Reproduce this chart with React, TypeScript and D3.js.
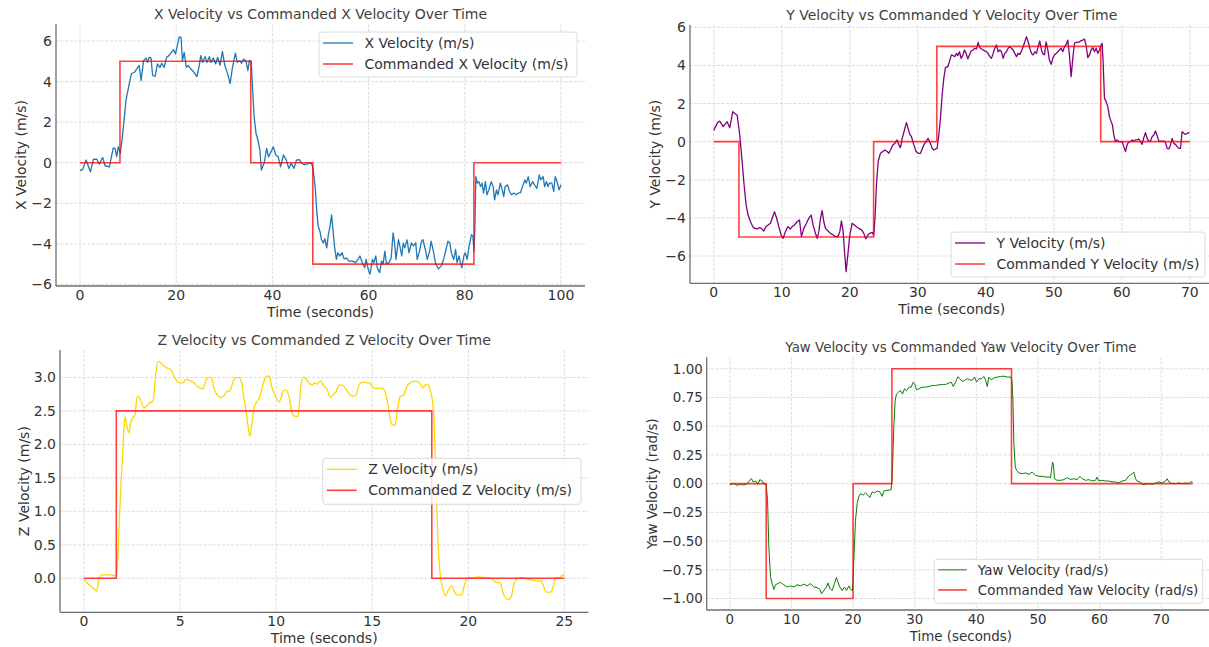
import React from 'react';
import * as d3 from 'd3';

const W = 1209;
const H = 647;

// ---------- Panel 1: X velocity ----------
const xTicksX = [0, 20, 40, 60, 80, 100];
const yTicksX = [-6, -4, -2, 0, 2, 4, 6];
const cmdXTimes = [0, 8.3, 35.5, 48.4, 81.9, 100];
const cmdXValues = [0, 5, 0, -5, 0, 0];
const xVelocity: [number, number][] = [
  [0,-0.4],[0.55,-0.33],[1.25,0.13],[2.15,-0.45],[2.77,0.16],[3.46,0.18],[4.0,-0.07],[4.7,0.26],[5.2,-0.15],[6.1,-0.2],
  [6.9,0.73],[7.3,0.7],[7.6,0.3],[7.96,0.78],[8.37,0.46],[8.86,1.4],[9.55,3.07],[10.24,3.9],[10.7,4.4],[11.3,4.46],
  [12.0,4.7],[12.3,4.8],[12.7,4.05],[13.2,5.03],[13.7,5.16],[14.05,4.95],[14.4,5.2],[14.75,5.17],[15.1,4.3],[15.6,4.25],
  [16.1,4.87],[16.6,4.7],[17.0,4.9],[17.5,4.7],[18.0,5.2],[18.5,5.28],[19.0,5.44],[19.45,5.57],[19.85,5.36],[20.3,5.85],
  [20.6,6.2],[21.0,6.18],[21.3,5.03],[21.66,5.44],[22.1,4.7],[22.5,4.8],[23.05,4.62],[23.7,4.46],[24.3,4.25],[24.8,4.8],
  [25.1,5.28],[25.5,4.95],[26.0,5.23],[26.4,4.95],[26.9,5.23],[27.2,4.95],[27.7,5.16],[28.2,4.87],[28.6,5.2],[29.1,4.8],
  [29.6,5.49],[30.1,4.8],[30.7,4.38],[31.2,3.9],[31.7,4.7],[32.3,5.4],[32.7,4.95],[33.2,5.03],[33.6,4.9],[34.0,5.11],
  [34.5,5.03],[34.9,4.54],[35.2,5.03],[35.6,5.0],[35.9,3.56],[36.2,2.25],[36.6,1.44],[37.0,1.11],[37.4,0.62],[37.7,-0.36],
  [38.3,0.0],[38.8,0.7],[39.2,0.29],[39.7,0.54],[40.2,0.78],[40.7,0.38],[41.2,0.29],[41.7,-0.2],[42.3,0.38],[42.9,0.13],
  [43.4,-0.28],[43.9,-0.03],[44.5,-0.28],[45.0,0.13],[45.6,0.15],[46.1,-0.03],[46.6,-0.1],[47.3,-0.06],[48.0,0.0],[48.4,-0.2],
  [48.9,-1.2],[49.2,-2.3],[49.5,-3.1],[49.9,-3.4],[50.2,-3.8],[50.6,-3.95],[50.9,-3.75],[51.3,-4.2],[51.6,-3.6],[52.0,-3.1],
  [52.3,-2.57],[52.6,-3.3],[52.9,-4.1],[53.3,-4.77],[53.6,-4.44],[54.0,-4.6],[54.5,-4.44],[54.9,-4.74],[55.4,-4.7],[55.9,-4.85],
  [56.6,-4.85],[57.3,-4.93],[57.8,-4.77],[58.2,-4.6],[58.7,-4.93],[59.2,-5.18],[59.5,-4.77],[59.9,-5.23],[60.3,-5.5],[60.8,-4.77],
  [61.1,-4.93],[61.5,-4.6],[61.8,-5.18],[62.3,-5.42],[62.7,-4.85],[63.0,-5.0],[63.4,-4.36],[63.7,-5.0],[64.2,-4.93],[64.7,-4.7],
  [65.1,-3.46],[65.4,-3.95],[65.7,-4.77],[66.2,-3.8],[66.5,-4.1],[66.9,-4.6],[67.2,-3.95],[67.5,-4.2],[68.0,-3.8],[68.4,-4.44],
  [68.9,-3.95],[69.3,-4.1],[69.8,-3.95],[70.1,-4.77],[70.6,-4.36],[71.0,-3.87],[71.3,-3.8],[71.8,-4.28],[72.2,-4.77],[72.7,-4.36],
  [73.0,-3.87],[73.4,-4.28],[73.9,-4.93],[74.5,-5.23],[75.1,-5.1],[75.6,-4.77],[76.1,-4.28],[76.5,-3.87],[76.9,-3.95],[77.2,-4.44],
  [77.7,-4.77],[78.1,-4.28],[78.4,-4.93],[78.8,-4.6],[79.1,-4.93],[79.4,-5.18],[79.8,-4.6],[80.1,-4.44],[80.5,-4.77],[80.9,-4.1],
  [81.4,-3.55],[81.7,-3.63],[81.9,-4.36],[82.1,-3.3],[82.3,-0.69],[82.6,-1.01],[82.9,-0.93],[83.3,-1.18],[83.6,-1.0],[83.9,-1.5],
  [84.3,-0.93],[84.6,-1.58],[85.0,-1.34],[85.5,-0.93],[85.9,-1.18],[86.2,-1.83],[86.6,-1.34],[86.9,-1.58],[87.4,-1.01],[87.8,-1.34],
  [88.1,-1.67],[88.4,-1.18],[88.9,-1.09],[89.3,-1.42],[89.7,-1.58],[90.2,-1.5],[90.7,-1.58],[91.1,-1.5],[91.6,-1.47],[92.0,-1.18],
  [92.5,-0.85],[92.8,-1.01],[93.2,-0.69],[93.6,-1.18],[94.1,-0.93],[94.5,-1.09],[95.0,-1.26],[95.5,-0.6],[95.8,-0.85],[96.3,-0.69],
  [96.6,-1.18],[97.0,-0.93],[97.3,-1.18],[97.6,-1.01],[98.1,-1.01],[98.5,-1.42],[98.8,-0.69],[99.2,-0.93],[99.6,-1.34],[100.0,-1.09],
];

// ---------- Panel 2: Y velocity ----------
const xTicksY = [0, 10, 20, 30, 40, 50, 60, 70];
const yTicksY = [-6, -4, -2, 0, 2, 4, 6];
const cmdYTimes = [0, 3.7, 23.5, 32.8, 56.9, 70];
const cmdYValues = [0, -5, 0, 5, 0, 0];
const yVelocity: [number, number][] = [
  [0,0.58],[0.25,0.79],[0.59,1.01],[0.88,1.08],[1.37,0.79],[1.96,1.05],[2.35,0.73],[2.79,1.57],[3.19,1.45],[3.43,1.4],
  [3.82,0.35],[4.17,-1.05],[4.41,-2.1],[4.75,-3.32],[5.05,-3.85],[5.39,-4.2],[5.74,-4.46],[6.03,-4.55],[6.37,-4.58],[6.72,-4.51],
  [7.01,-4.55],[7.35,-4.69],[7.65,-4.46],[7.99,-4.37],[8.33,-4.28],[8.68,-3.93],[8.92,-3.67],[9.22,-3.99],[9.56,-4.46],[9.9,-4.9],
  [10.2,-5.07],[10.54,-4.72],[10.88,-4.46],[11.27,-4.58],[11.52,-4.46],[11.86,-4.37],[12.25,-4.2],[12.6,-4.11],[12.89,-4.98],[13.24,-4.55],
  [13.63,-4.28],[13.97,-4.02],[14.31,-3.85],[14.6,-4.37],[14.95,-4.81],[15.2,-5.07],[15.44,-4.72],[15.69,-4.02],[15.93,-3.62],[16.18,-4.2],
  [16.42,-4.55],[16.81,-4.69],[17.16,-4.81],[17.55,-4.9],[17.89,-4.98],[18.24,-4.98],[18.53,-4.72],[18.77,-4.16],[19.02,-4.72],[19.22,-5.77],
  [19.46,-6.82],[19.71,-5.94],[20.0,-4.9],[20.34,-4.28],[20.69,-4.37],[20.98,-4.46],[21.32,-4.55],[21.72,-4.63],[22.06,-4.81],[22.35,-5.1],
  [22.65,-4.9],[22.94,-4.81],[23.28,-4.76],[23.53,-4.9],[23.73,-3.85],[23.92,-2.27],[24.17,-1.05],[24.51,-0.61],[24.85,-0.52],[25.15,-0.44],
  [25.49,-0.52],[25.74,-0.61],[25.98,-0.44],[26.32,-0.17],[26.62,-0.09],[26.96,0.09],[27.21,-0.17],[27.45,-0.31],[27.7,0.17],[28.04,0.61],
  [28.33,1.0],[28.58,0.7],[28.82,0.38],[29.07,0.26],[29.41,-0.17],[29.75,-0.52],[30.05,-0.61],[30.39,-0.61],[30.64,-0.38],[30.88,-0.17],
  [31.23,0.03],[31.52,0.17],[31.86,-0.09],[32.11,-0.35],[32.35,-0.44],[32.65,-0.38],[32.84,-0.35],[33.09,0.35],[33.33,1.22],[33.58,2.45],
  [33.82,3.32],[34.07,3.9],[34.41,3.93],[34.71,4.28],[34.95,4.55],[35.2,4.51],[35.44,4.46],[35.69,4.63],[35.88,4.51],[36.13,4.72],
  [36.37,4.37],[36.62,4.55],[36.86,4.81],[37.11,4.63],[37.35,4.34],[37.6,4.55],[37.84,4.76],[38.14,4.81],[38.38,4.9],[38.63,4.86],
  [38.87,5.21],[39.12,4.93],[39.36,4.86],[39.61,4.81],[39.85,4.76],[40.1,4.72],[40.34,4.63],[40.59,4.46],[40.83,4.37],[41.08,4.63],
  [41.32,4.9],[41.57,5.07],[41.81,4.72],[42.06,4.81],[42.3,4.72],[42.55,4.37],[42.79,4.63],[43.04,4.72],[43.28,4.9],[43.53,4.98],
  [43.77,4.9],[44.02,4.81],[44.26,4.63],[44.51,4.46],[44.75,4.63],[45.0,4.58],[45.25,4.76],[45.49,4.98],[45.74,5.24],[45.98,5.51],
  [46.23,5.24],[46.47,4.9],[46.72,4.63],[46.96,4.55],[47.21,4.72],[47.45,4.63],[47.7,4.98],[47.94,5.28],[48.19,4.81],[48.38,4.63],
  [48.63,4.55],[48.87,5.24],[49.12,4.81],[49.36,4.28],[49.61,4.06],[49.85,4.37],[50.1,4.55],[50.34,4.63],[50.59,4.72],[50.83,4.81],
  [51.08,4.9],[51.32,4.72],[51.57,4.98],[51.81,5.1],[52.06,5.33],[52.3,4.55],[52.55,3.41],[52.79,4.37],[53.04,5.16],[53.28,5.21],
  [53.53,5.21],[53.77,5.24],[54.02,5.3],[54.26,5.33],[54.51,5.38],[54.75,5.07],[55.0,4.41],[55.25,4.55],[55.49,4.81],[55.74,4.93],
  [55.98,4.72],[56.23,4.9],[56.47,4.63],[56.72,4.81],[56.96,5.07],[57.11,5.16],[57.25,4.2],[57.45,2.27],[57.7,2.1],[57.94,1.84],
  [58.19,1.31],[58.43,1.05],[58.63,0.87],[58.82,0.35],[59.07,0.0],[59.31,0.09],[59.56,0.0],[59.8,0.0],[60.05,0.0],[60.29,-0.26],
  [60.54,-0.52],[60.78,-0.17],[61.03,0.0],[61.27,0.0],[61.52,0.09],[61.76,0.03],[62.01,0.09],[62.25,0.09],[62.5,0.14],[62.75,0.0],
  [62.99,-0.14],[63.24,0.21],[63.48,0.47],[63.73,0.17],[63.97,0.03],[64.22,0.03],[64.46,0.26],[64.71,0.35],[64.95,0.56],[65.2,0.31],
  [65.44,0.03],[65.69,0.03],[65.93,0.03],[66.18,0.03],[66.42,-0.03],[66.67,-0.35],[66.91,-0.38],[67.16,-0.17],[67.4,0.17],[67.65,-0.09],
  [67.89,-0.14],[68.14,-0.26],[68.38,-0.35],[68.63,-0.35],[68.87,0.52],[69.12,0.44],[69.36,0.38],[69.61,0.44],[69.95,0.49],
];

// ---------- Panel 3: Z velocity ----------
const xTicksZ = [0, 5, 10, 15, 20, 25];
const yTicksZ = [0, 0.5, 1, 1.5, 2, 2.5, 3];
const cmdZTimes = [0, 1.68, 18.1, 25];
const cmdZValues = [0, 2.5, 0, 0];
const zVelocity: [number, number][] = [
  [0,0],[0.17,-0.07],[0.35,-0.12],[0.52,-0.16],[0.66,-0.19],[0.75,-0.05],[0.87,0.05],[1.13,0.05],[1.39,0.05],[1.61,0.04],
  [1.73,0.15],[1.82,0.75],[1.94,1.5],[2.05,2.09],[2.13,2.42],[2.22,2.29],[2.34,2.17],[2.43,2.32],[2.51,2.39],[2.65,2.44],
  [2.77,2.72],[2.86,2.71],[3.0,2.62],[3.12,2.54],[3.24,2.57],[3.41,2.62],[3.59,2.64],[3.73,3.04],[3.86,3.24],[3.99,3.22],
  [4.16,3.17],[4.33,3.14],[4.51,3.12],[4.68,3.02],[4.85,2.94],[5.03,2.92],[5.15,2.92],[5.29,2.97],[5.55,2.95],[5.72,2.92],
  [5.89,2.87],[6.07,2.84],[6.2,2.83],[6.33,2.94],[6.46,3.0],[6.64,2.99],[6.76,2.84],[6.93,2.74],[7.11,2.7],[7.28,2.73],
  [7.45,2.79],[7.59,2.8],[7.71,2.89],[7.85,2.99],[8.06,3.0],[8.18,2.95],[8.28,2.77],[8.41,2.54],[8.54,2.27],[8.63,2.12],
  [8.75,2.34],[8.87,2.57],[9.01,2.64],[9.15,2.72],[9.27,2.84],[9.39,2.97],[9.53,3.02],[9.65,3.02],[9.76,2.87],[9.88,2.77],
  [10.02,2.69],[10.14,2.63],[10.26,2.7],[10.36,2.8],[10.52,2.81],[10.66,2.72],[10.83,2.47],[11.0,2.42],[11.14,2.42],[11.27,2.84],
  [11.39,3.0],[11.52,2.99],[11.7,2.92],[11.87,2.89],[12.01,2.92],[12.13,2.9],[12.31,2.95],[12.48,2.87],[12.65,2.82],[12.82,2.7],
  [12.95,2.74],[13.12,2.79],[13.29,2.89],[13.47,2.88],[13.64,2.82],[13.81,2.75],[13.99,2.72],[14.16,2.74],[14.33,2.9],[14.51,2.93],
  [14.68,2.92],[14.85,2.92],[14.99,2.87],[15.16,2.83],[15.34,2.84],[15.51,2.84],[15.68,2.77],[15.82,2.59],[15.94,2.37],[16.06,2.29],
  [16.2,2.29],[16.32,2.54],[16.46,2.72],[16.64,2.74],[16.81,2.87],[16.98,2.92],[17.16,2.94],[17.33,2.94],[17.5,2.9],[17.63,2.84],
  [17.76,2.89],[17.89,2.9],[17.99,2.82],[18.11,2.69],[18.22,2.34],[18.32,1.45],[18.42,0.55],[18.54,0.05],[18.63,-0.1],[18.8,-0.26],
  [18.98,-0.17],[19.15,-0.11],[19.29,-0.21],[19.46,-0.25],[19.67,-0.24],[19.8,-0.1],[19.98,0.01],[20.19,0.01],[20.45,0.02],[20.71,0.015],
  [20.97,0.01],[21.23,0.0],[21.44,-0.06],[21.67,-0.07],[21.79,-0.2],[21.96,-0.3],[22.1,-0.32],[22.24,-0.27],[22.36,-0.1],[22.53,-0.01],
  [22.71,0.01],[22.88,0.01],[23.05,-0.01],[23.31,-0.025],[23.57,-0.04],[23.8,-0.04],[23.92,-0.12],[24.04,-0.2],[24.18,-0.21],[24.32,-0.2],
  [24.44,-0.1],[24.56,0.01],[24.73,0.01],[24.87,0.04],[25.0,0.05],
];

// ---------- Panel 4: Yaw velocity ----------
const xTicksYaw = [0, 10, 20, 30, 40, 50, 60, 70];
const yTicksYaw = [-1, -0.75, -0.5, -0.25, 0, 0.25, 0.5, 0.75, 1];
const cmdYawTimes = [0, 5.9, 20.0, 26.3, 45.7, 75.1];
const cmdYawValues = [0, -1, 0, 1, 0, 0];
const yawVelocity: [number, number][] = [
  [0,-0.01],[0.65,0],[1.2,-0.015],[1.74,-0.006],[2.28,-0.012],[2.82,0],[3.25,0.03],[3.52,0.043],[3.79,0.015],[4.17,0.023],
  [4.55,-0.006],[4.87,0.035],[5.25,0.023],[5.63,-0.006],[5.9,-0.006],[6.12,-0.145],[6.33,-0.55],[6.6,-0.81],[6.87,-0.87],[7.14,-0.92],
  [7.41,-0.88],[7.79,-0.87],[8.23,-0.86],[8.76,-0.88],[9.3,-0.9],[9.84,-0.89],[10.38,-0.9],[10.92,-0.88],[11.46,-0.89],[12.0,-0.875],
  [12.55,-0.89],[13.09,-0.87],[13.63,-0.9],[14.17,-0.905],[14.6,-0.92],[14.87,-0.96],[15.25,-0.93],[15.68,-0.9],[15.95,-0.864],[16.22,-0.913],
  [16.6,-0.93],[16.98,-0.87],[17.31,-0.817],[17.53,-0.855],[17.85,-0.9],[18.23,-0.93],[18.61,-0.9],[18.93,-0.93],[19.31,-0.89],[19.58,-0.92],
  [19.9,-0.93],[20.12,-0.667],[20.39,-0.32],[20.66,-0.174],[20.94,-0.11],[21.21,-0.087],[21.64,-0.1],[22.02,-0.08],[22.4,-0.1],[22.72,-0.12],
  [23.1,-0.072],[23.48,-0.08],[23.91,-0.064],[24.34,-0.072],[24.72,-0.11],[24.99,-0.064],[25.42,-0.058],[25.8,-0.058],[26.18,-0.052],[26.4,0.145],
  [26.61,0.49],[26.83,0.725],[27.04,0.78],[27.42,0.8],[27.7,0.81],[28.02,0.78],[28.34,0.826],[28.67,0.81],[29.05,0.84],[29.43,0.84],
  [29.75,0.884],[29.97,0.87],[30.3,0.817],[30.67,0.826],[31.21,0.84],[31.76,0.84],[32.3,0.846],[32.84,0.855],[33.38,0.855],[33.92,0.86],
  [34.46,0.864],[35.0,0.864],[35.54,0.875],[35.92,0.884],[36.25,0.846],[36.62,0.884],[37.0,0.93],[37.33,0.913],[37.71,0.89],[38.09,0.899],
  [38.52,0.913],[38.95,0.904],[39.33,0.899],[39.71,0.928],[40.03,0.884],[40.41,0.913],[40.79,0.913],[41.22,0.933],[41.49,0.904],[41.76,0.846],
  [42.03,0.928],[42.41,0.904],[42.85,0.92],[43.39,0.928],[43.93,0.933],[44.47,0.936],[45.01,0.928],[45.55,0.928],[45.77,0.9],[45.93,0.725],
  [46.09,0.348],[46.31,0.145],[46.53,0.116],[46.9,0.093],[47.44,0.087],[47.98,0.093],[48.52,0.081],[49.06,0.101],[49.6,0.072],[50.14,0.064],
  [50.68,0.064],[51.22,0.058],[51.76,0.058],[52.03,0.052],[52.19,0.116],[52.35,0.188],[52.52,0.16],[52.68,0.043],[53.11,0.029],[53.65,0.029],
  [54.19,0.035],[54.74,0.052],[55.28,0.035],[55.82,0.043],[56.36,0.035],[56.79,0.064],[57.17,0.043],[57.71,0.029],[58.25,0.035],[58.79,0.023],
  [59.33,0.029],[59.6,0.058],[59.87,0.023],[60.41,0.029],[60.95,0.023],[61.49,0.023],[62.04,0.015],[62.58,0.015],[63.12,0.006],[63.66,0.023],
  [64.2,0.029],[64.58,0.058],[64.9,0.072],[65.28,0.087],[65.55,0.101],[65.82,0.043],[66.09,0.023],[66.52,0.015],[66.9,-0.006],[67.44,-0.006],
  [67.98,0],[68.53,-0.006],[69.07,0.006],[69.61,0.015],[70.15,0.006],[70.69,0.023],[70.96,0.043],[71.23,0.015],[71.77,0],[72.31,0],
  [72.85,0.006],[73.39,0],[73.94,0.006],[74.48,0],[74.75,0.017],[75.1,0.012],
];

const FONT = "'DejaVu Sans', Verdana, sans-serif";
const TEXT = '#333333';
const CMD_RED = '#ff0000';

type PanelSpec = {
  title: string;
  yLabel: string;
  left: number; right: number; top: number; bottom: number;
  xDomain: [number, number];
  yDomain: [number, number];
  xTicks: number[];
  yTicks: number[];
  yFmt: (v: number) => string;
  yLabelOffset: number;
  fs: number;
  measured: [number, number][];
  measuredColor: string;
  measuredWidth: number;
  smooth?: boolean;
  cmdTimes: number[];
  cmdValues: number[];
  measuredLabel: string;
  cmdLabel: string;
  legend: { x: number; y: number; w: number; h: number };
};

const minusFmt = (f: (v: number) => string) => (v: number) => f(v).replace('-', '\u2212');

const panels: PanelSpec[] = [
  {
    title: 'X Velocity vs Commanded X Velocity Over Time',
    yLabel: 'X Velocity (m/s)',
    left: 56, right: 585, top: 24, bottom: 286,
    xDomain: [-5, 105], yDomain: [-6.08, 6.84],
    xTicks: xTicksX, yTicks: yTicksX,
    yFmt: minusFmt(d3.format('d')),
    yLabelOffset: 30, fs: 14,
    measured: xVelocity, measuredColor: '#1f77b4', measuredWidth: 1.3,
    cmdTimes: cmdXTimes, cmdValues: cmdXValues,
    measuredLabel: 'X Velocity (m/s)', cmdLabel: 'Commanded X Velocity (m/s)',
    legend: { x: 319, y: 32, w: 258, h: 45 },
  },
  {
    title: 'Y Velocity vs Commanded Y Velocity Over Time',
    yLabel: 'Y Velocity (m/s)',
    left: 690, right: 1213.6, top: 25, bottom: 283.3,
    xDomain: [-3.5, 73.5], yDomain: [-7.43, 6.12],
    xTicks: xTicksY, yTicks: yTicksY,
    yFmt: minusFmt(d3.format('d')),
    yLabelOffset: 30, fs: 14,
    measured: yVelocity, measuredColor: '#800080', measuredWidth: 1.3,
    cmdTimes: cmdYTimes, cmdValues: cmdYValues,
    measuredLabel: 'Y Velocity (m/s)', cmdLabel: 'Commanded Y Velocity (m/s)',
    legend: { x: 951, y: 232, w: 254, h: 45 },
  },
  {
    title: 'Z Velocity vs Commanded Z Velocity Over Time',
    yLabel: 'Z Velocity (m/s)',
    left: 60, right: 588.4, top: 350, bottom: 612.3,
    xDomain: [-1.25, 26.25], yDomain: [-0.508, 3.41],
    xTicks: xTicksZ, yTicks: yTicksZ,
    yFmt: minusFmt(d3.format('.1f')),
    yLabelOffset: 31, fs: 14,
    measured: zVelocity, measuredColor: '#FFD700', measuredWidth: 1.3, smooth: true,
    cmdTimes: cmdZTimes, cmdValues: cmdZValues,
    measuredLabel: 'Z Velocity (m/s)', cmdLabel: 'Commanded Z Velocity (m/s)',
    legend: { x: 322.7, y: 458.3, w: 258.3, h: 46 },
  },
  {
    title: 'Yaw Velocity vs Commanded Yaw Velocity Over Time',
    yLabel: 'Yaw Velocity (rad/s)',
    left: 706.7, right: 1215.2, top: 357.3, bottom: 610,
    xDomain: [-3.75, 78.75], yDomain: [-1.1, 1.1],
    xTicks: xTicksYaw, yTicks: yTicksYaw,
    yFmt: minusFmt(d3.format('.2f')),
    yLabelOffset: 50, fs: 13.4,
    measured: yawVelocity, measuredColor: '#008000', measuredWidth: 1.0,
    cmdTimes: cmdYawTimes, cmdValues: cmdYawValues,
    measuredLabel: 'Yaw Velocity (rad/s)', cmdLabel: 'Commanded Yaw Velocity (rad/s)',
    legend: { x: 934.3, y: 559.3, w: 268.4, h: 44 },
  },
];

function Panel({ p, idx }: { p: PanelSpec; idx: number }) {
  const x = d3.scaleLinear().domain(p.xDomain).range([p.left, p.right]);
  const y = d3.scaleLinear().domain(p.yDomain).range([p.bottom, p.top]);
  const line = d3
    .line<[number, number]>()
    .x((d) => x(d[0]))
    .y((d) => y(d[1]))
    .curve(p.smooth ? d3.curveMonotoneX : d3.curveLinear);
  const cmdData: [number, number][] = p.cmdTimes.map((t, i) => [t, p.cmdValues[i]]);
  const cmdLine = d3
    .line<[number, number]>()
    .x((d) => x(d[0]))
    .y((d) => y(d[1]))
    .curve(d3.curveStepAfter);
  const clipId = `clip-${idx}`;
  const cx = (p.left + p.right) / 2;
  const cy = (p.top + p.bottom) / 2;
  const lg = p.legend;
  const s = p.fs / 14;
  return (
    <g>
      <defs>
        <clipPath id={clipId}>
          <rect x={p.left} y={p.top} width={p.right - p.left} height={p.bottom - p.top} />
        </clipPath>
      </defs>
      {/* grid */}
      {p.xTicks.map((t) => (
        <line key={`gx${t}`} x1={x(t)} x2={x(t)} y1={p.top} y2={p.bottom}
          stroke="#d4d4d4" strokeWidth={0.8} strokeDasharray="3,1.5" />
      ))}
      {p.yTicks.map((t) => (
        <line key={`gy${t}`} x1={p.left} x2={p.right} y1={y(t)} y2={y(t)}
          stroke="#d4d4d4" strokeWidth={0.8} strokeDasharray="3,1.5" />
      ))}
      {/* data */}
      <g clipPath={`url(#${clipId})`}>
        <path d={line(p.measured) || ''} fill="none" stroke={p.measuredColor}
          strokeWidth={p.measuredWidth} strokeLinejoin="round" />
        <path d={cmdLine(cmdData) || ''} fill="none" stroke={CMD_RED}
          strokeOpacity={0.75} strokeWidth={1.6} />
      </g>
      {/* spines */}
      <line x1={p.left} x2={p.left} y1={p.top} y2={p.bottom} stroke="#6e6e6e" strokeWidth={1.3} />
      <line x1={p.left} x2={p.right} y1={p.bottom} y2={p.bottom} stroke="#6e6e6e" strokeWidth={1.3} />
      {/* tick labels */}
      {p.xTicks.map((t) => (
        <text key={`tx${t}`} x={x(t)} y={p.bottom + 14} textAnchor="middle"
          fontSize={p.fs} fill={TEXT} fontFamily={FONT}>{minusFmt(d3.format('d'))(t)}</text>
      ))}
      {p.yTicks.map((t) => (
        <text key={`ty${t}`} x={p.left - 4} y={y(t)} dy="0.36em" textAnchor="end"
          fontSize={p.fs} fill={TEXT} fontFamily={FONT}>{p.yFmt(t)}</text>
      ))}
      {/* axis labels */}
      <text x={cx} y={p.bottom + 31} textAnchor="middle" fontSize={p.fs} fill={TEXT} fontFamily={FONT}>
        Time (seconds)
      </text>
      <text transform={`translate(${p.left - p.yLabelOffset},${cy}) rotate(-90)`} textAnchor="middle"
        fontSize={p.fs} fill={TEXT} fontFamily={FONT}>
        {p.yLabel}
      </text>
      {/* title */}
      <text x={cx} y={p.top - 5} textAnchor="middle" fontSize={p.fs} fill="#404040" fontFamily={FONT}>
        {p.title}
      </text>
      {/* legend */}
      <g>
        <rect x={lg.x} y={lg.y} width={lg.w} height={lg.h} rx={3} fill="#ffffff" fillOpacity={0.8}
          stroke="#d0d0d0" strokeWidth={0.8} />
        <line x1={lg.x + 4 * s} x2={lg.x + 34 * s} y1={lg.y + 11 * s} y2={lg.y + 11 * s}
          stroke={p.measuredColor} strokeWidth={p.measuredWidth} />
        <text x={lg.x + 45.5 * s} y={lg.y + 11 * s} dy="0.36em" fontSize={p.fs} fill={TEXT} fontFamily={FONT}>
          {p.measuredLabel}
        </text>
        <line x1={lg.x + 4 * s} x2={lg.x + 34 * s} y1={lg.y + 32 * s} y2={lg.y + 32 * s}
          stroke={CMD_RED} strokeOpacity={0.75} strokeWidth={1.6} />
        <text x={lg.x + 45.5 * s} y={lg.y + 32 * s} dy="0.36em" fontSize={p.fs} fill={TEXT} fontFamily={FONT}>
          {p.cmdLabel}
        </text>
      </g>
    </g>
  );
}

export default function App() {
  return (
    <svg width={W} height={H} viewBox={`0 0 ${W} ${H}`}
      style={{ position: 'absolute', left: 0, top: 0, background: '#ffffff' }}>
      <rect x={0} y={0} width={W} height={H} fill="#ffffff" />
      {panels.map((p, i) => (
        <Panel key={i} p={p} idx={i} />
      ))}
    </svg>
  );
}
